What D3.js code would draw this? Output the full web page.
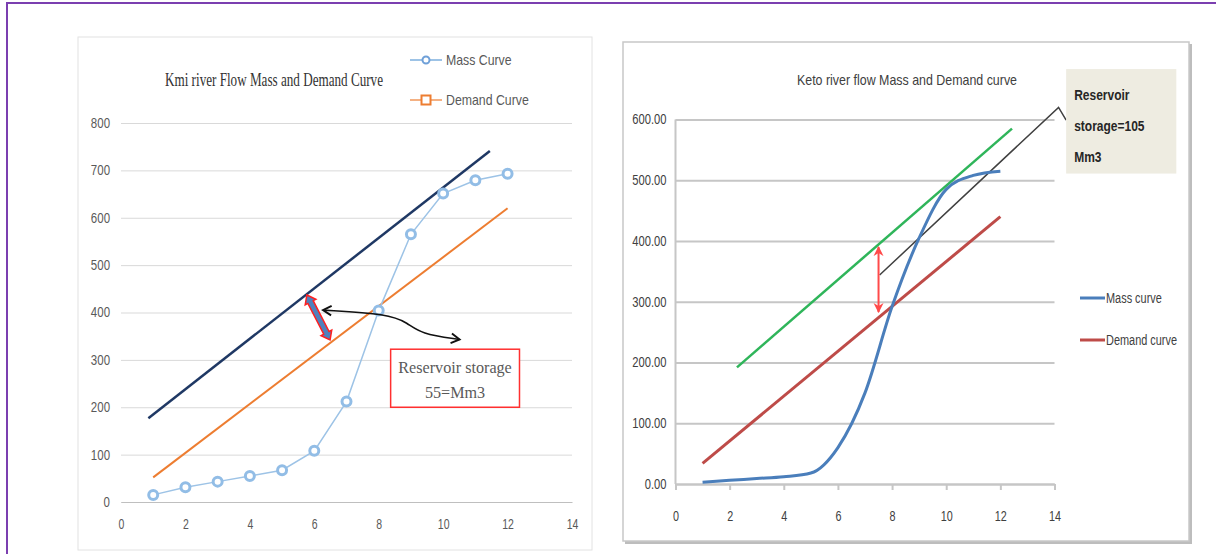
<!DOCTYPE html>
<html>
<head>
<meta charset="utf-8">
<script src="https://cdn.jsdelivr.net/npm/d3@7"></script>
<style>
  body { margin: 0; background: #fff; }
  svg { display: block; }
  .narrow { font-family: "Liberation Sans", Arial, sans-serif; }
</style>
</head>
<body>
<svg id="chart" width="1216" height="554"></svg>
<script>
// ---- data: Kmi river (left panel)
const months = [1, 2, 3, 4, 5, 6, 7, 8, 9, 10, 11, 12];
const kmiMass = [15, 31, 43, 55, 67, 108, 212, 404, 565, 651, 679, 693];
const kmiDemand = [[1, 52], [12, 620]];
const kmiTangent = [[0.85, 177], [11.45, 741]];
const kmiStorageArrow = [[5.77, 437], [6.49, 342]];
const kmiPointer = [[6.27, 405], [8.3, 397], [8.9, 378], [9.3, 355], [10.51, 343]];
const kmiNoteBox = [[8.37, 322.5], [12.37, 200]];
const kmiNoteText = ["Reservoir storage", "55=Mm3"];
const kmiXTicks = [0, 2, 4, 6, 8, 10, 12, 14];
const kmiYTicks = [0, 100, 200, 300, 400, 500, 600, 700, 800];

// ---- data: Keto river (right panel)
const ketoMass = [3, 6, 9, 12, 18, 60, 150, 292, 405, 485, 508, 515];
const ketoDemand = [[1, 34], [12, 440]];
const ketoTangent = [[2.27, 192], [12.43, 585]];
const ketoLeader = [[7.54, 344], [14.15, 620], [14.43, 599]];
const ketoStorageArrow = [[7.5, 390], [7.5, 283]];
const ketoNoteBox = [[14.43, 683], [18.5, 511]];
const ketoNoteText = ["Reservoir", "storage=105", "Mm3"];
const ketoXTicks = [0, 2, 4, 6, 8, 10, 12, 14];
const ketoYTicks = [0, 100, 200, 300, 400, 500, 600];

const svg = d3.select("#chart");

// squeeze text horizontally (the original uses a narrow font)
function condense(sel, k) {
  sel.each(function () {
    const w = this.getComputedTextLength();
    d3.select(this).attr("textLength", w * k).attr("lengthAdjust", "spacingAndGlyphs");
  });
}

// markers
const defs = svg.append("defs");
defs.append("marker")
  .attr("id", "chev")
  .attr("viewBox", "0 0 10 10")
  .attr("refX", 8).attr("refY", 5)
  .attr("markerUnits", "userSpaceOnUse")
  .attr("markerWidth", 12).attr("markerHeight", 12)
  .attr("orient", "auto-start-reverse")
  .append("path")
  .attr("d", "M1,1L8,5L1,9")
  .attr("fill", "none").attr("stroke", "#111").attr("stroke-width", 1.6);
defs.append("marker")
  .attr("id", "redhead")
  .attr("viewBox", "0 0 10 10")
  .attr("refX", 9).attr("refY", 5)
  .attr("markerUnits", "userSpaceOnUse")
  .attr("markerWidth", 10).attr("markerHeight", 12)
  .attr("orient", "auto-start-reverse")
  .append("path")
  .attr("d", "M0,0L10,5L0,10L3,5Z")
  .attr("fill", "#ff4a4a");

// outer purple frame
svg.append("path")
  .attr("d", "M7,560V3H1220")
  .attr("fill", "none")
  .attr("stroke", "#7b3fb0")
  .attr("stroke-width", 2);

// ================= left panel
const kx = d3.scaleLinear().domain([0, 14]).range([121, 572]);
const ky = d3.scaleLinear().domain([0, 800]).range([502, 123]);
const left = svg.append("g");

left.append("rect")
  .attr("x", 78).attr("y", 37).attr("width", 514).attr("height", 513)
  .attr("fill", "#fff").attr("stroke", "#e2e2e2");

left.append("g")
  .attr("transform", `translate(${kx(0)},0)`)
  .call(d3.axisLeft(ky).tickValues(kmiYTicks).tickSize(-(kx(14) - kx(0))).tickPadding(11))
  .call(g => g.select(".domain").remove())
  .call(g => g.selectAll(".tick line").attr("stroke", "#d9d9d9"))
  .call(g => g.selectAll("text").attr("class", "narrow").attr("font-size", 14).attr("fill", "#595959")
    .call(condense, 0.82));

left.append("g")
  .attr("transform", `translate(0,${ky(0)})`)
  .call(d3.axisBottom(kx).tickValues(kmiXTicks).tickSize(0).tickSizeOuter(0).tickPadding(17))
  .call(g => g.select(".domain").attr("stroke", "#bfbfbf"))
  .call(g => g.selectAll("text").attr("class", "narrow").attr("font-size", 14).attr("fill", "#595959")
    .call(condense, 0.75));

const kline = d3.line().x(d => kx(d[0])).y(d => ky(d[1]));

left.append("path")
  .attr("d", kline(kmiTangent))
  .attr("fill", "none").attr("stroke", "#1f3864").attr("stroke-width", 2.5);

left.append("path")
  .attr("d", kline(kmiDemand))
  .attr("fill", "none").attr("stroke", "#ed7d31").attr("stroke-width", 2);

const kmiPoints = months.map((m, i) => [m, kmiMass[i]]);
left.append("path")
  .attr("d", kline(kmiPoints))
  .attr("fill", "none").attr("stroke", "#9dc3e6").attr("stroke-width", 1.5);
left.append("g")
  .selectAll("circle")
  .data(kmiPoints)
  .join("circle")
  .attr("cx", d => kx(d[0]))
  .attr("cy", d => ky(d[1]))
  .attr("r", 4.5)
  .attr("fill", "#fff")
  .attr("stroke", "#92bde6")
  .attr("stroke-width", 3);

// block double arrow between the two lines
{
  const p0 = [kx(kmiStorageArrow[0][0]), ky(kmiStorageArrow[0][1])];
  const p1 = [kx(kmiStorageArrow[1][0]), ky(kmiStorageArrow[1][1])];
  const L = Math.hypot(p1[0] - p0[0], p1[1] - p0[1]);
  const ang = Math.atan2(p1[1] - p0[1], p1[0] - p0[0]) * 180 / Math.PI;
  const h = 8, w1 = 3, w2 = 6;
  const pts = [[0, 0], [h, w2], [h, w1], [L - h, w1], [L - h, w2], [L, 0],
    [L - h, -w2], [L - h, -w1], [h, -w1], [h, -w2]];
  left.append("polygon")
    .attr("points", pts.map(p => p.join(",")).join(" "))
    .attr("transform", `translate(${p0[0]},${p0[1]}) rotate(${ang})`)
    .attr("fill", "#4f81bd").attr("stroke", "#ff2020").attr("stroke-width", 1.5);
}

// curved pointer
left.append("path")
  .attr("d", d3.line().x(d => kx(d[0])).y(d => ky(d[1])).curve(d3.curveBasis)(kmiPointer))
  .attr("fill", "none").attr("stroke", "#111").attr("stroke-width", 1.6)
  .attr("marker-start", "url(#chev)").attr("marker-end", "url(#chev)");

// note box
left.append("rect")
  .attr("x", kx(kmiNoteBox[0][0])).attr("y", ky(kmiNoteBox[0][1]))
  .attr("width", kx(kmiNoteBox[1][0]) - kx(kmiNoteBox[0][0]))
  .attr("height", ky(kmiNoteBox[1][1]) - ky(kmiNoteBox[0][1]))
  .attr("fill", "#fff").attr("stroke", "#ff3030").attr("stroke-width", 1.5);
left.append("g")
  .selectAll("text")
  .data(kmiNoteText)
  .join("text")
  .attr("x", (kx(kmiNoteBox[0][0]) + kx(kmiNoteBox[1][0])) / 2)
  .attr("y", (d, i) => ky(kmiNoteBox[0][1]) + 24 + i * 25)
  .attr("text-anchor", "middle")
  .attr("font-family", "'Liberation Serif', serif")
  .attr("font-size", 17)
  .attr("fill", "#595959")
  .text(d => d)
  .call(condense, 0.95);

// title
left.append("text")
  .attr("x", 165).attr("y", 86)
  .attr("textLength", 218).attr("lengthAdjust", "spacingAndGlyphs")
  .attr("font-family", "'Liberation Serif', serif")
  .attr("font-size", 19)
  .attr("fill", "#333")
  .text("Kmi river Flow Mass and Demand Curve");

// legend
const kLegend = left.append("g").attr("class", "narrow");
kLegend.append("line").attr("x1", 410).attr("x2", 442).attr("y1", 60).attr("y2", 60)
  .attr("stroke", "#9dc3e6").attr("stroke-width", 2);
kLegend.append("circle").attr("cx", 426).attr("cy", 60).attr("r", 3.5)
  .attr("fill", "#fff").attr("stroke", "#6fa0d8").attr("stroke-width", 2);
kLegend.append("line").attr("x1", 410).attr("x2", 442).attr("y1", 100).attr("y2", 100)
  .attr("stroke", "#f4b183").attr("stroke-width", 2);
kLegend.append("rect").attr("x", 421.5).attr("y", 95.5).attr("width", 9).attr("height", 9)
  .attr("fill", "#fff").attr("stroke", "#ed7d31").attr("stroke-width", 2);
kLegend.selectAll("text")
  .data(["Mass Curve", "Demand Curve"])
  .join("text")
  .attr("x", 446)
  .attr("y", (d, i) => 65 + i * 40)
  .attr("font-size", 15)
  .attr("fill", "#595959")
  .text(d => d)
  .call(condense, 0.82);

// ================= right panel
const rx = d3.scaleLinear().domain([0, 14]).range([675.5, 1054.5]);
const ry = d3.scaleLinear().domain([0, 600]).range([484, 119.5]);
const right = svg.append("g");

right.append("rect")
  .attr("x", 625).attr("y", 44).attr("width", 567).attr("height", 500)
  .attr("fill", "#bdbdbd");
right.append("rect")
  .attr("x", 623).attr("y", 42).attr("width", 566).attr("height", 499)
  .attr("fill", "#fff").attr("stroke", "#c8c8c8").attr("stroke-width", 1.5);

right.append("g")
  .attr("transform", `translate(${rx(0)},0)`)
  .call(d3.axisLeft(ry).tickValues(ketoYTicks).tickFormat(d3.format(".2f"))
    .tickSize(-(rx(14) - rx(0))).tickPadding(9))
  .call(g => g.select(".domain").remove())
  .call(g => g.selectAll(".tick line").attr("stroke", "#c6c6c6").attr("stroke-width", 2))
  .call(g => g.selectAll("text").attr("class", "narrow").attr("font-size", 14).attr("fill", "#404040")
    .call(condense, 0.8));

right.append("line")
  .attr("x1", rx(0)).attr("x2", rx(0)).attr("y1", ry(600)).attr("y2", ry(0))
  .attr("stroke", "#c6c6c6").attr("stroke-width", 2);

right.append("g")
  .attr("transform", `translate(0,${ry(0)})`)
  .call(d3.axisBottom(rx).tickValues(ketoXTicks).tickSize(6).tickSizeOuter(0).tickPadding(20))
  .call(g => g.select(".domain").attr("stroke", "#c6c6c6").attr("stroke-width", 2))
  .call(g => g.selectAll(".tick line").attr("stroke", "#c6c6c6").attr("stroke-width", 2))
  .call(g => g.selectAll("text").attr("class", "narrow").attr("font-size", 15).attr("fill", "#404040")
    .call(condense, 0.72));

const rline = d3.line().x(d => rx(d[0])).y(d => ry(d[1]));

right.append("path")
  .attr("d", rline(ketoTangent))
  .attr("fill", "none").attr("stroke", "#2fb55a").attr("stroke-width", 2.5);
right.append("path")
  .attr("d", rline(ketoLeader))
  .attr("fill", "none").attr("stroke", "#404040").attr("stroke-width", 1.5);
right.append("path")
  .attr("d", rline(ketoDemand))
  .attr("fill", "none").attr("stroke", "#be4b48").attr("stroke-width", 3);
right.append("path")
  .attr("d", d3.line().x(d => rx(d[0])).y(d => ry(d[1])).curve(d3.curveMonotoneX)(months.map((m, i) => [m, ketoMass[i]])))
  .attr("fill", "none").attr("stroke", "#4a7ebb").attr("stroke-width", 3);

right.append("path")
  .attr("d", rline(ketoStorageArrow))
  .attr("fill", "none").attr("stroke", "#ff4a4a").attr("stroke-width", 2)
  .attr("marker-start", "url(#redhead)").attr("marker-end", "url(#redhead)");

// callout box
right.append("rect")
  .attr("x", rx(ketoNoteBox[0][0])).attr("y", ry(ketoNoteBox[0][1]))
  .attr("width", rx(ketoNoteBox[1][0]) - rx(ketoNoteBox[0][0]))
  .attr("height", ry(ketoNoteBox[1][1]) - ry(ketoNoteBox[0][1]))
  .attr("fill", "#eeece1");
right.append("g")
  .attr("class", "narrow")
  .selectAll("text")
  .data(ketoNoteText)
  .join("text")
  .attr("x", rx(ketoNoteBox[0][0]) + 8)
  .attr("y", (d, i) => ry(ketoNoteBox[0][1]) + 31 + i * 31)
  .attr("font-size", 15)
  .attr("font-weight", "bold")
  .attr("fill", "#262626")
  .text(d => d)
  .call(condense, 0.8);

// title
right.append("text")
  .attr("x", 797).attr("y", 85)
  .attr("textLength", 220).attr("lengthAdjust", "spacingAndGlyphs")
  .attr("font-family", "'Liberation Sans', sans-serif")
  .attr("font-size", 15)
  .attr("fill", "#404040")
  .text("Keto river flow Mass  and Demand curve");

// legend
const rLegend = right.append("g").attr("class", "narrow");
[["Mass curve", "#4a7ebb"], ["Demand curve", "#be4b48"]].forEach(([label, color], i) => {
  rLegend.append("line")
    .attr("x1", 1080).attr("x2", 1105).attr("y1", 298 + i * 42).attr("y2", 298 + i * 42)
    .attr("stroke", color).attr("stroke-width", 3);
  rLegend.append("text")
    .attr("x", 1106).attr("y", 303 + i * 42)
    .attr("font-size", 14)
    .attr("fill", "#404040")
    .text(label)
    .call(condense, 0.78);
});
</script>
</body>
</html>
